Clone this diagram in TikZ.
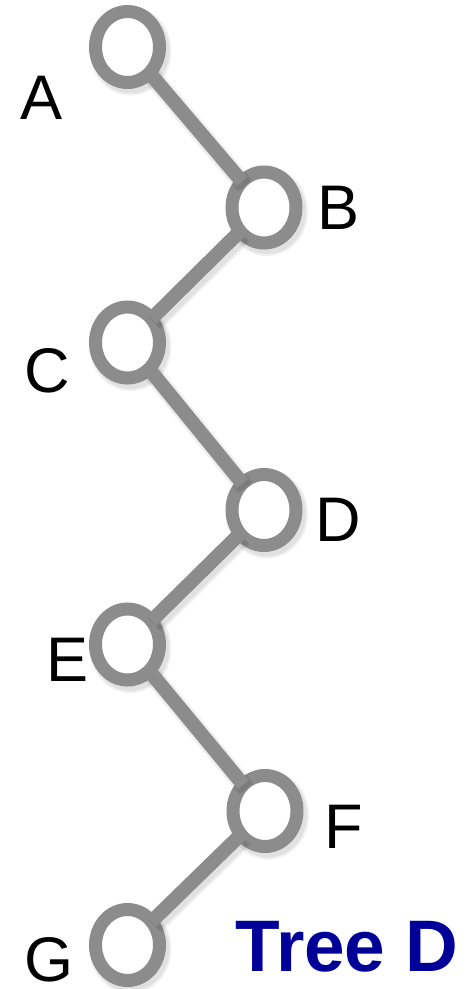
\documentclass[tikz,border=0pt]{standalone}
\usepackage{fontspec}
\setmainfont{Liberation Sans}
\usetikzlibrary{shapes.geometric}
\definecolor{ringgray}{RGB}{140,140,140}
\definecolor{titleblue}{RGB}{0,0,153}
\begin{document}
\begin{tikzpicture}[x=1pt,y=-1pt,
  treenode/.style={ellipse, draw=ringgray, fill=white, line width=13pt,
    minimum width=64pt, minimum height=71pt, inner sep=0pt, outer sep=0pt},
  ringshadow/.style={draw=black, draw opacity=0.06, line width=#1},
  edge/.style={draw=ringgray, line width=14pt},
  edgeshadow/.style={draw=black, draw opacity=0.06, line width=#1},
  lbl/.style={inner sep=0pt, outer sep=0pt, font=\fontsize{63}{63}\selectfont},
  title/.style={inner sep=0pt, outer sep=0pt, text=titleblue,
    font=\fontsize{73}{73}\selectfont\bfseries}]
  \useasboundingbox (0,0) rectangle (475,989);
  \fill[white] (0,0) rectangle (475,989);

  % soft shadows under the rings (two layers for a blurred edge)
  \foreach \x/\y in {127.5/47,264/207.5,127.5/342.5,264/510,127.5/644.5,265/811,127.5/945}{
    \draw[ringshadow=18pt] (\x+3,\y+4) ellipse [x radius=32, y radius=35.5];
    \draw[ringshadow=14pt] (\x+3,\y+4) ellipse [x radius=32, y radius=35.5];
  }

  % tree nodes
  \node[treenode] (a) at (127.5,47) {};
  \node[treenode] (b) at (264,207.5) {};
  \node[treenode] (c) at (127.5,342.5) {};
  \node[treenode] (d) at (264,510) {};
  \node[treenode] (e) at (127.5,644.5) {};
  \node[treenode] (f) at (265,811) {};
  \node[treenode] (g) at (127.5,945) {};

  % edge shadows, then edges
  \begin{scope}[transform canvas={shift={(3pt,-4pt)}}]
    \foreach \u/\v in {a/b,b/c,c/d,d/e,e/f,f/g}{
      \draw[edgeshadow=19pt] (\u) -- (\v);
      \draw[edgeshadow=15pt] (\u) -- (\v);
    }
  \end{scope}
  \draw[edge] (a) -- (b);
  \draw[edge] (b) -- (c);
  \draw[edge] (c) -- (d);
  \draw[edge] (d) -- (e);
  \draw[edge] (e) -- (f);
  \draw[edge] (f) -- (g);

  % node labels
  \node[lbl] (la) at (42,98) {A};
  \node[lbl] (lb) at (339,207.5) {B};
  \node[lbl] (lc) at (47,371) {C};
  \node[lbl] (ld) at (338,520) {D};
  \node[lbl] (le) at (67.5,659.5) {E};
  \node[lbl] (lf) at (344,826.5) {F};
  \node[lbl] (lg) at (49,960) {G};

  \node[title] (tree) at (347,947) {Tree D};
\end{tikzpicture}
\end{document}
